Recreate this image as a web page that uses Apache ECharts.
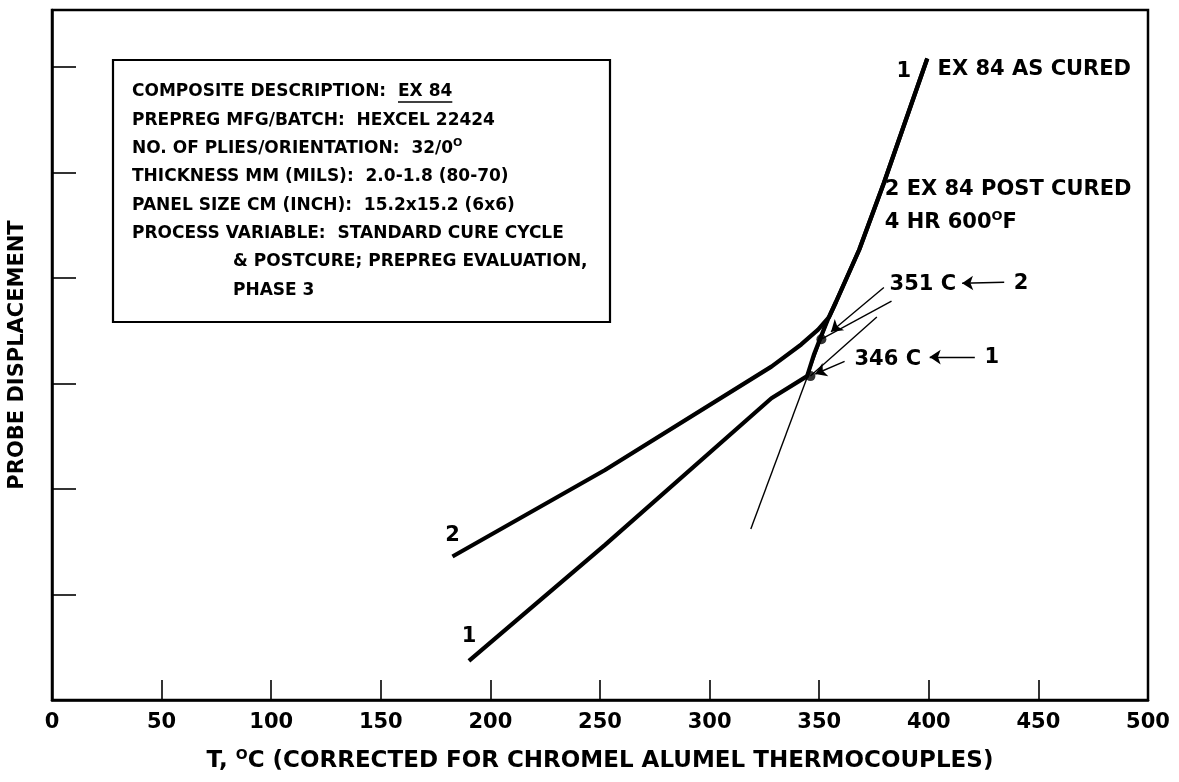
<!DOCTYPE html>
<html><head><meta charset="utf-8">
<script src="https://cdn.jsdelivr.net/npm/echarts@6/dist/echarts.min.js"></script>
<style>html,body{margin:0;padding:0;background:#fff}#c{width:1179px;height:782px}</style>
</head><body><div id="c"></div>
<script>
// ---- data (temperature °C, relative probe displacement in tick units) ----
const xRange = [0, 500];
const xStep = 50;
const yRange = [0, 6.54];
const yStep = 1;

const curveAsCured = [[190.2,0.37],[252.3,1.47],[328.2,2.86],[344.5,3.07],[347.7,3.28],[350.9,3.45],[354.0,3.61],[357.6,3.77],[368.3,4.27],[379.5,4.90],[399.3,6.08]];
const curvePostCured = [[182.7,1.36],[252.3,2.18],[328.2,3.16],[341.8,3.37],[349.5,3.51],[354.5,3.63],[357.6,3.77],[368.3,4.27],[379.5,4.90],[399.3,6.08]];

const steepTangent = [[318.8,1.62],[354.9,3.64]];
const tangentAsCured = [[346,3.07],[376.3,3.63]];
const tangentPostCured = [[351,3.42],[383.0,3.78]];
const onsetPoints = [[346,3.07],[351,3.42]];

// arrows: [from, to(tip)]
const arrows = [
  [[379.5,3.91],[355.4,3.49]],
  [[361.6,3.21],[348.2,3.09]],
  [[434.4,3.96],[415.2,3.95]],
  [[421.0,3.25],[400.4,3.25]]
];

// notes: [x, y, text] (x = left edge of text)
const notes = [
  [385.3,5.96,'1'],
  [404.0,5.98,'EX 84 AS CURED'],
  [379.9,4.84,'2 EX 84 POST CURED'],
  [379.9,4.53,'4 HR 600{sup|O}F'],
  [382.1,3.94,'351 C'],
  [438.8,3.95,'2'],
  [366.1,3.23,'346 C'],
  [425.4,3.25,'1'],
  [179.4,1.56,'2'],
  [186.9,0.60,'1']
];

const infoLines = [
  ['COMPOSITE DESCRIPTION:  ', 'EX 84', 0],
  ['PREPREG MFG/BATCH:  HEXCEL 22424', '', 0],
  ['NO. OF PLIES/ORIENTATION:  32/0{sup|O}', '', 0],
  ['THICKNESS MM (MILS):  2.0-1.8 (80-70)', '', 0],
  ['PANEL SIZE CM (INCH):  15.2x15.2 (6x6)', '', 0],
  ['PROCESS VARIABLE:  STANDARD CURE CYCLE', '', 0],
  ['& POSTCURE; PREPREG EVALUATION,', '', 1],
  ['PHASE 3', '', 1]
];

const xName = 'T, {sup|O}C (CORRECTED FOR CHROMEL ALUMEL THERMOCOUPLES)';
const yName = 'PROBE DISPLACEMENT';

// ---- chart ----
const FF = '"DejaVu Sans", sans-serif';
const chart = echarts.init(document.getElementById('c'), null, {renderer: 'canvas'});

const measure = (() => {
  const ctx = document.createElement('canvas').getContext('2d');
  return (t, size) => { ctx.font = 'bold ' + size + 'px "DejaVu Sans"'; return ctx.measureText(t).width; };
})();

const boxX = 113, boxY = 60, boxW = 497, boxH = 262;
const lineX0 = 132, lineX1 = 233, lineY0 = 92, lineDY = 28.3, infoSize = 17;
const supRich = (size) => ({ sup: { fontSize: Math.round(size * 0.62), fontWeight: 'bold', fontFamily: FF, color: '#000', lineHeight: Math.round(size*0.62), verticalAlign: 'top' } });

const graphics = [{
  type: 'rect', shape: {x: boxX, y: boxY, width: boxW, height: boxH},
  style: {fill: '#fff', stroke: '#000', lineWidth: 2.2}, z: 10
}];
infoLines.forEach((ln, i) => {
  const x = ln[2] ? lineX1 : lineX0;
  const y = lineY0 + i * lineDY;
  graphics.push({
    type: 'text', z: 11,
    style: {
      text: ln[0] + ln[1], x: x, y: y, fill: '#000',
      fontSize: infoSize, fontWeight: 'bold', fontFamily: FF,
      verticalAlign: 'middle', align: 'left', lineHeight: 22,
      rich: supRich(infoSize)
    }
  });
  if (ln[1]) {
    const w0 = measure(ln[0], infoSize), w1 = measure(ln[1], infoSize);
    graphics.push({
      type: 'line', z: 11,
      shape: {x1: x + w0, y1: y + 10, x2: x + w0 + w1, y2: y + 10},
      style: {stroke: '#000', lineWidth: 1.5}
    });
  }
});

const thin = {color: '#000', width: 1.4};
const thick = {color: '#000', width: 4.2};

const option = {
  animation: false,
  backgroundColor: '#fff',
  grid: {left: 52, right: 31, top: 10, bottom: 82, show: true, borderColor: '#000', borderWidth: 2.5, outerBoundsMode: 'none', containLabel: false},
  xAxis: {
    type: 'value', min: xRange[0], max: xRange[1], interval: xStep,
    name: xName, nameLocation: 'middle', nameGap: 48,
    nameTextStyle: {fontSize: 23, fontWeight: 'bold', fontFamily: FF, color: '#000', lineHeight: 27, rich: supRich(23)},
    axisLine: {show: true, lineStyle: {color: '#000', width: 2.5}},
    axisTick: {show: true, inside: true, length: 20, lineStyle: {color: '#000', width: 1.6}},
    axisLabel: {show: true, margin: 12, fontSize: 21, fontWeight: 'bold', fontFamily: FF, color: '#000'},
    splitLine: {show: false}
  },
  yAxis: {
    type: 'value', min: yRange[0], max: yRange[1], interval: yStep,
    name: yName, nameLocation: 'middle', nameGap: 24, nameRotate: 90,
    nameTextStyle: {fontSize: 21, fontWeight: 'bold', fontFamily: FF, color: '#000'},
    axisLine: {show: true, lineStyle: {color: '#000', width: 2.5}},
    axisTick: {show: true, inside: true, length: 24, lineStyle: {color: '#000', width: 1.6}},
    axisLabel: {show: false},
    splitLine: {show: false}
  },
  series: [
    {type: 'line', name: '1', data: curveAsCured, symbol: 'none', lineStyle: thick, z: 5},
    {type: 'line', name: '2', data: curvePostCured, symbol: 'none', lineStyle: thick, z: 5},
    {type: 'line', data: steepTangent, symbol: 'none', lineStyle: thin, z: 4},
    {type: 'line', data: tangentAsCured, symbol: 'none', lineStyle: thin, z: 4},
    {type: 'line', data: tangentPostCured, symbol: 'none', lineStyle: thin, z: 4,
      markLine: {
        silent: true, symbol: ['none', 'arrow'], symbolSize: 11, animation: false,
        label: {show: false}, lineStyle: {color: '#000', width: 1.4, type: 'solid'},
        emphasis: {disabled: true},
        data: arrows.map(a => [{coord: a[0]}, {coord: a[1]}])
      }
    },
    {type: 'scatter', data: onsetPoints, symbol: 'circle', symbolSize: 10, itemStyle: {color: '#000'}, z: 6}
  ],
  graphic: graphics
};
chart.setOption(option);

// annotation texts anchored at data coordinates
const noteGraphics = notes.map(n => {
  const p = chart.convertToPixel({gridIndex: 0}, [n[0], n[1]]);
  return {
    type: 'text', z: 12,
    style: {
      text: n[2], x: p[0], y: p[1], fill: '#000',
      fontSize: 21, fontWeight: 'bold', fontFamily: FF,
      align: 'left', verticalAlign: 'middle', lineHeight: 24,
      rich: supRich(21)
    }
  };
});
chart.setOption({graphic: graphics.concat(noteGraphics)});
</script></body></html>
